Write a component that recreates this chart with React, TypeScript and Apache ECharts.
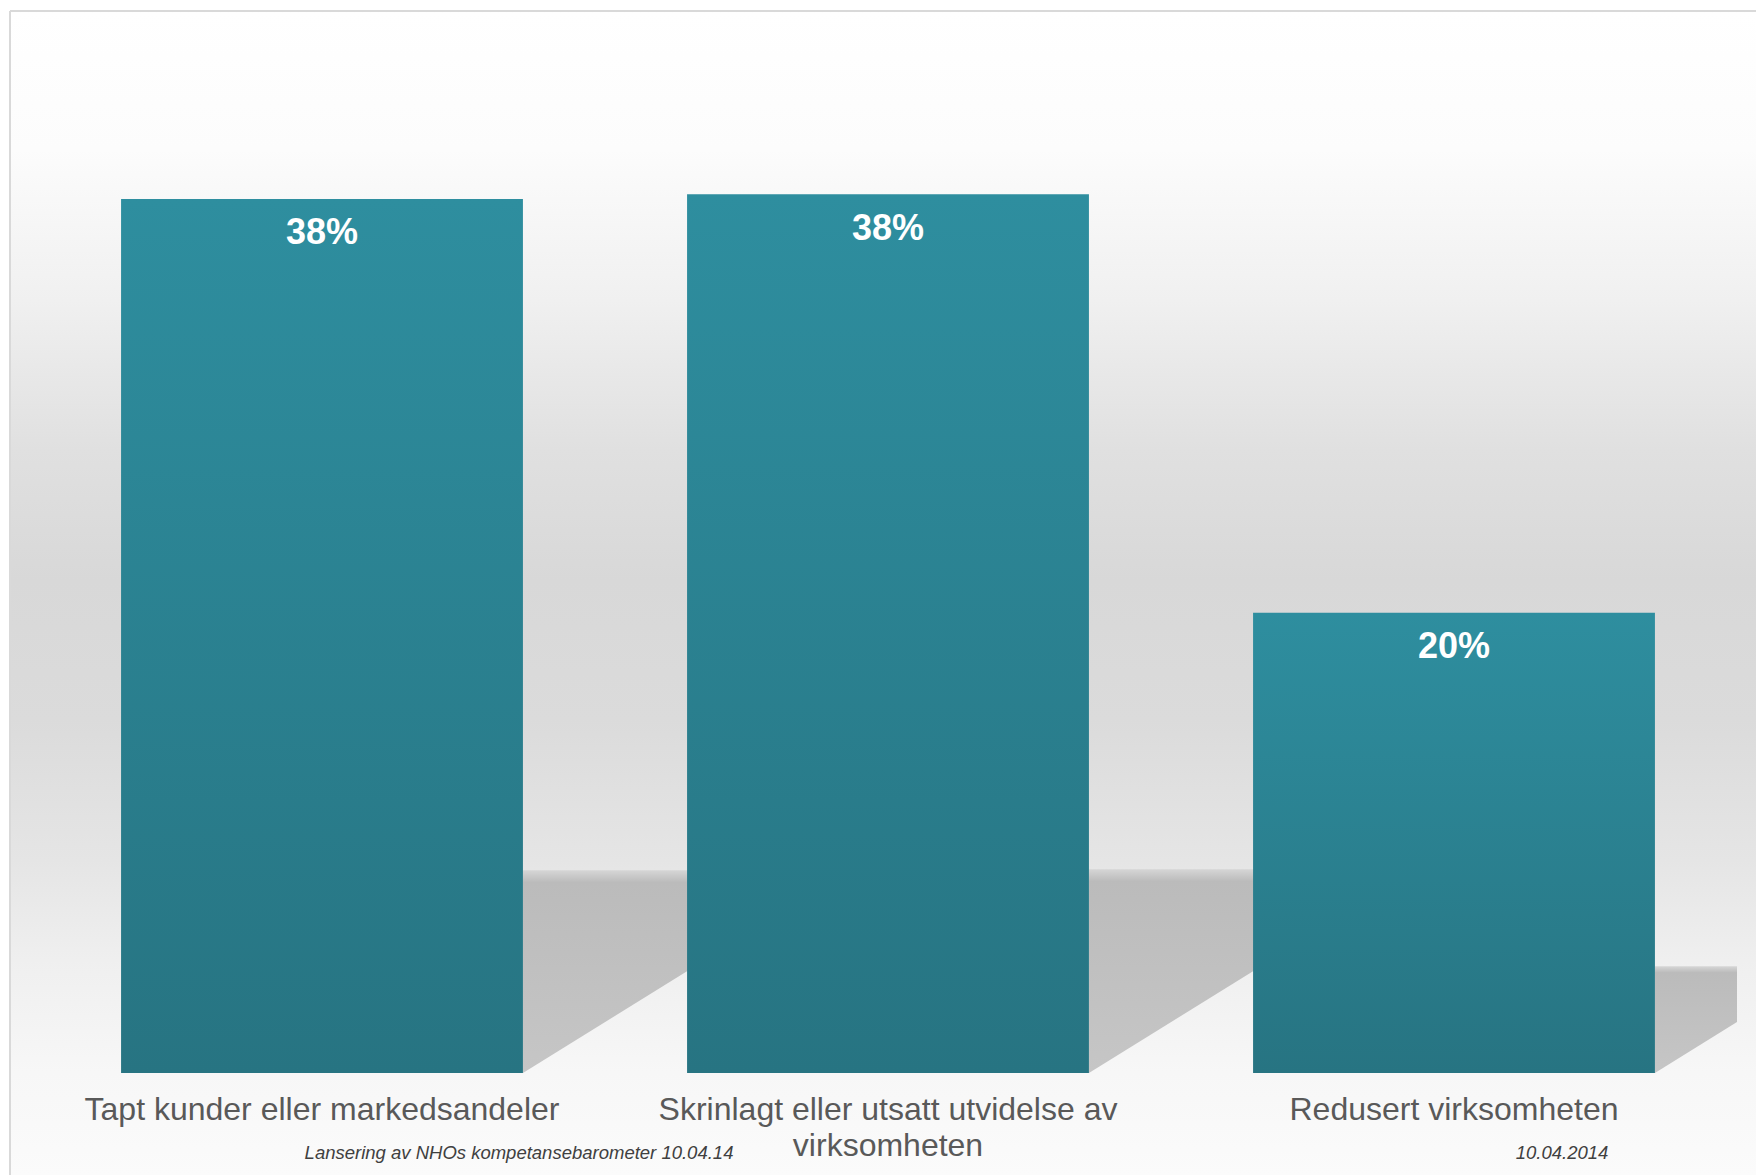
import React, { useEffect, useRef } from "react";
import * as echarts from "echarts";

const categories = [
  "Tapt kunder eller markedsandeler",
  "Skrinlagt eller utsatt utvidelse av\nvirksomheten",
  "Redusert virksomheten",
];
const values = [37.8, 38.0, 19.9];
const footerLeft = "Lansering av NHOs kompetansebarometer 10.04.14";
const footerRight = "10.04.2014";

const W = 1756;
const H = 1175;
const BAR_RATIO = 0.71;
const SHADOW_RATIO = 0.232;
const SHADOW_SLOPE = 0.62;
const FONT = '"Liberation Sans", Arial, sans-serif';

export default function App() {
  const ref = useRef<HTMLDivElement>(null);

  useEffect(() => {
    if (!ref.current) return;
    const chart = echarts.init(ref.current, undefined, { renderer: "svg" });

    const shadowData = values.map((v, i) => [i, v]);

    const option: any = {
      animation: false,
      backgroundColor: "#ffffff",
      grid: { left: 39, right: 19, top: 148, bottom: 102, containLabel: false },
      xAxis: {
        type: "category",
        data: categories,
        axisLine: { show: false },
        axisTick: { show: false },
        axisLabel: {
          interval: 0,
          margin: 18,
          fontSize: 32,
          lineHeight: 36,
          color: "#595959",
          fontFamily: FONT,
        },
        splitLine: { show: false },
      },
      yAxis: {
        type: "value",
        min: 0,
        max: 40,
        show: false,
        splitLine: { show: false },
      },
      graphic: [
        {
          type: "rect",
          z: -10,
          silent: true,
          shape: { x: 10, y: 11, width: W - 10, height: H - 11 },
          style: {
            fill: new echarts.graphic.LinearGradient(0, 0, 0, 1, [
              { offset: 0, color: "#ffffff" },
              { offset: 0.119, color: "#fcfcfc" },
              { offset: 0.248, color: "#f0f0f0" },
              { offset: 0.377, color: "#e0e0e0" },
              { offset: 0.489, color: "#d8d8d8" },
              { offset: 0.609, color: "#dbdbdb" },
              { offset: 0.729, color: "#e5e5e5" },
              { offset: 0.815, color: "#efefef" },
              { offset: 0.912, color: "#f7f7f7" },
              { offset: 1, color: "#fbfbfb" },
            ]),
          },
        },
        {
          type: "line",
          z: 10,
          silent: true,
          shape: { x1: 10, y1: 11, x2: 10, y2: H },
          style: { stroke: "#d9d9d9", lineWidth: 2 },
        },
        {
          type: "line",
          z: 10,
          silent: true,
          shape: { x1: 10, y1: 11, x2: W, y2: 11 },
          style: { stroke: "#d9d9d9", lineWidth: 2 },
        },
        {
          type: "text",
          z: 10,
          silent: true,
          x: 519,
          y: 1152,
          style: {
            text: footerLeft,
            fontSize: 18.5,
            fontStyle: "italic",
            fontFamily: FONT,
            fill: "#404040",
            align: "center",
            verticalAlign: "middle",
          },
        },
        {
          type: "text",
          z: 10,
          silent: true,
          x: 1562,
          y: 1152,
          style: {
            text: footerRight,
            fontSize: 18.5,
            fontStyle: "italic",
            fontFamily: FONT,
            fill: "#404040",
            align: "center",
            verticalAlign: "middle",
          },
        },
      ],
      series: [
        {
          type: "custom",
          z: 1,
          silent: true,
          data: shadowData,
          encode: { x: 0, y: 1 },
          renderItem: (params: any, api: any) => {
            const idx = api.value(0);
            const val = api.value(1);
            const bottom = api.coord([idx, 0]);
            const top = api.coord([idx, val]);
            const half = (api.size([1, 0])[0] * BAR_RATIO) / 2;
            const xr = bottom[0] + half;
            const yb = bottom[1];
            const hs = (yb - top[1]) * SHADOW_RATIO;
            const yt = yb - hs;
            const xe = xr + hs / SHADOW_SLOPE;
            const xmax = params.coordSys.x + params.coordSys.width;
            let points: number[][];
            if (xe > xmax) {
              points = [
                [xr, yb],
                [xr, yt],
                [xmax, yt],
                [xmax, yb - (xmax - xr) * SHADOW_SLOPE],
              ];
            } else {
              points = [
                [xr, yb],
                [xr, yt],
                [xe, yt],
              ];
            }
            return {
              type: "polygon",
              shape: { points },
              style: {
                fill: new echarts.graphic.LinearGradient(0, 0, 0, 1, [
                  { offset: 0, color: "#d6d6d6" },
                  { offset: 0.06, color: "#bbbbbb" },
                  { offset: 1, color: "#c6c6c6" },
                ]),
              },
            };
          },
        },
        {
          type: "bar",
          z: 2,
          data: values,
          barWidth: (BAR_RATIO * 100).toFixed(0) + "%",
          itemStyle: {
            color: new echarts.graphic.LinearGradient(0, 0, 0, 1, [
              { offset: 0, color: "#2e8e9f" },
              { offset: 1, color: "#277482" },
            ]),
          },
          label: {
            show: true,
            position: "insideTop",
            distance: 15,
            color: "#ffffff",
            fontSize: 36,
            fontWeight: "bold",
            fontFamily: FONT,
            formatter: (p: any) => Math.round(p.value) + "%",
          },
        },
      ],
    };

    chart.setOption(option);
    return () => chart.dispose();
  }, []);

  return (
    <div
      ref={ref}
      style={{ position: "fixed", left: 0, top: 0, width: W, height: H }}
    />
  );
}
